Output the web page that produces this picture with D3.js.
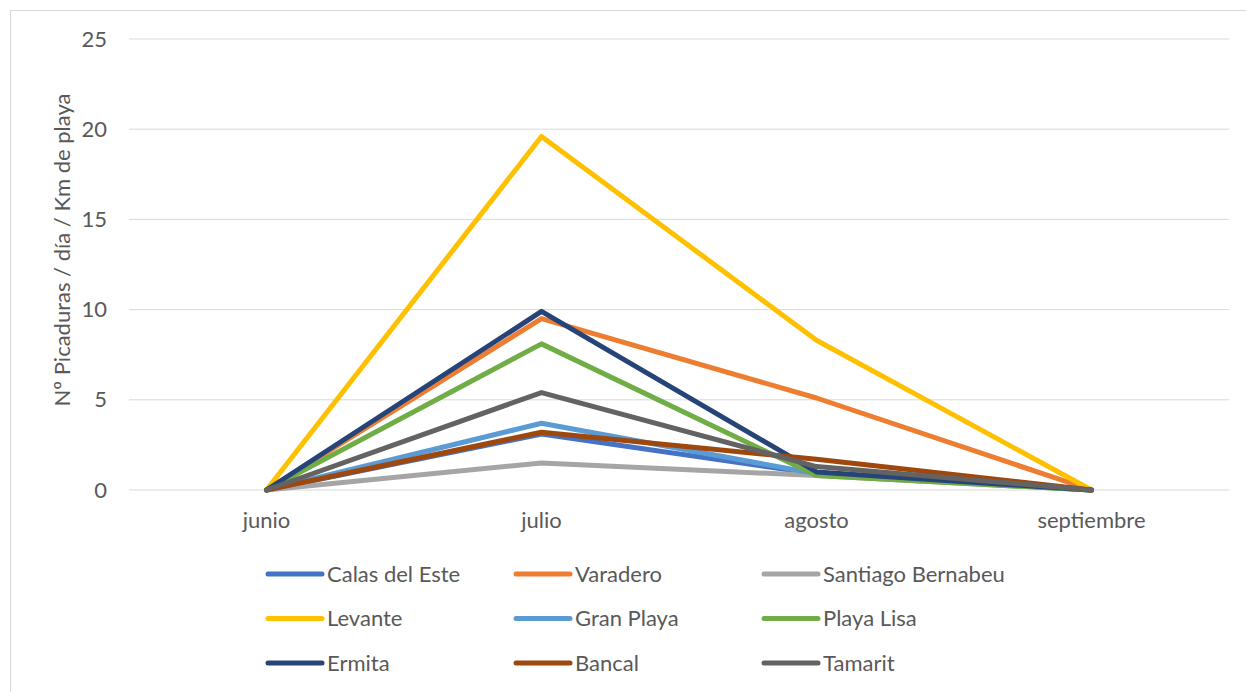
<!DOCTYPE html>
<html>
<head>
<meta charset="utf-8">
<script src="https://cdn.jsdelivr.net/npm/d3@7"></script>
<style>
  body { margin: 0; background: #fff; }
  text { font-family: Lato, "Open Sans", sans-serif; fill: #595959; }
</style>
</head>
<body>
<div id="chart"></div>
<script>
const months = ["junio", "julio", "agosto", "septiembre"]
const yTicks = [0, 5, 10, 15, 20, 25]

const calasDelEste = [0, 3.1, 0.9, 0]
const varadero = [0, 9.5, 5.1, 0]
const santiagoBernabeu = [0, 1.5, 0.8, 0]
const levante = [0, 19.6, 8.3, 0]
const granPlaya = [0, 3.7, 0.9, 0]
const playaLisa = [0, 8.1, 0.8, 0]
const ermita = [0, 9.9, 1.0, 0]
const bancal = [0, 3.2, 1.7, 0]
const tamarit = [0, 5.4, 1.3, 0]

const series = [
  { name: "Calas del Este", values: calasDelEste, color: "#4472C4" },
  { name: "Varadero", values: varadero, color: "#ED7D31" },
  { name: "Santiago Bernabeu", values: santiagoBernabeu, color: "#A5A5A5" },
  { name: "Levante", values: levante, color: "#FFC000" },
  { name: "Gran Playa", values: granPlaya, color: "#5B9BD5" },
  { name: "Playa Lisa", values: playaLisa, color: "#70AD47" },
  { name: "Ermita", values: ermita, color: "#264478" },
  { name: "Bancal", values: bancal, color: "#9E480E" },
  { name: "Tamarit", values: tamarit, color: "#636363" }
]

const width = 1246
const height = 692

const svg = d3.select("#chart").append("svg").attr("width", width).attr("height", height)

// outer chart border (runs off the right and bottom edges)
svg.append("rect")
  .attr("x", 10.5).attr("y", 10.5)
  .attr("width", 1250).attr("height", 700)
  .attr("fill", "none").attr("stroke", "#d9d9d9")

const x = d3.scaleBand().domain(months).range([129, 1229])
const y = d3.scaleLinear().domain([0, 25]).range([490, 39])

// gridlines
svg.append("g")
  .selectAll("line")
  .data(yTicks)
  .join("line")
  .attr("x1", 129).attr("x2", 1229)
  .attr("y1", d => y(d)).attr("y2", d => y(d))
  .attr("stroke", "#d9d9d9").attr("stroke-width", 1)

// y axis labels
const yAxis = svg.append("g")
  .attr("transform", "translate(129,0)")
  .call(d3.axisLeft(y).tickValues(yTicks).tickSize(0).tickPadding(22))
yAxis.select(".domain").remove()
yAxis.selectAll("text").style("font-size", "22px").attr("fill", "#595959").attr("font-family", "Lato, sans-serif")

// x axis labels
const xAxis = svg.append("g")
  .attr("transform", "translate(0,490)")
  .call(d3.axisBottom(x).tickSize(0).tickPadding(22))
xAxis.select(".domain").remove()
xAxis.selectAll("text").style("font-size", "22px").attr("fill", "#595959").attr("font-family", "Lato, sans-serif")

// y axis title
svg.append("text")
  .attr("transform", "translate(70,250) rotate(-90)")
  .attr("text-anchor", "middle")
  .style("font-size", "22px")
  .text("Nº Picaduras / día / Km de playa")

// lines
const line = d3.line()
  .x((d, i) => x(months[i]) + x.bandwidth() / 2)
  .y(d => y(d))

svg.append("g")
  .selectAll("path")
  .data(series)
  .join("path")
  .attr("d", d => line(d.values))
  .attr("fill", "none")
  .attr("stroke", d => d.color)
  .attr("stroke-width", 5)
  .attr("stroke-linejoin", "round")
  .attr("stroke-linecap", "round")

// legend, 3 columns
const legend = svg.append("g")
  .selectAll("g")
  .data(series)
  .join("g")
  .attr("transform", (d, i) => `translate(${268 + (i % 3) * 248},${574 + Math.floor(i / 3) * 44.5})`)

legend.append("line")
  .attr("x1", 0).attr("x2", 54)
  .attr("stroke", d => d.color)
  .attr("stroke-width", 5)
  .attr("stroke-linecap", "round")

legend.append("text")
  .attr("x", 59)
  .attr("dy", "0.35em")
  .style("font-size", "22px")
  .text(d => d.name)
</script>
</body>
</html>
